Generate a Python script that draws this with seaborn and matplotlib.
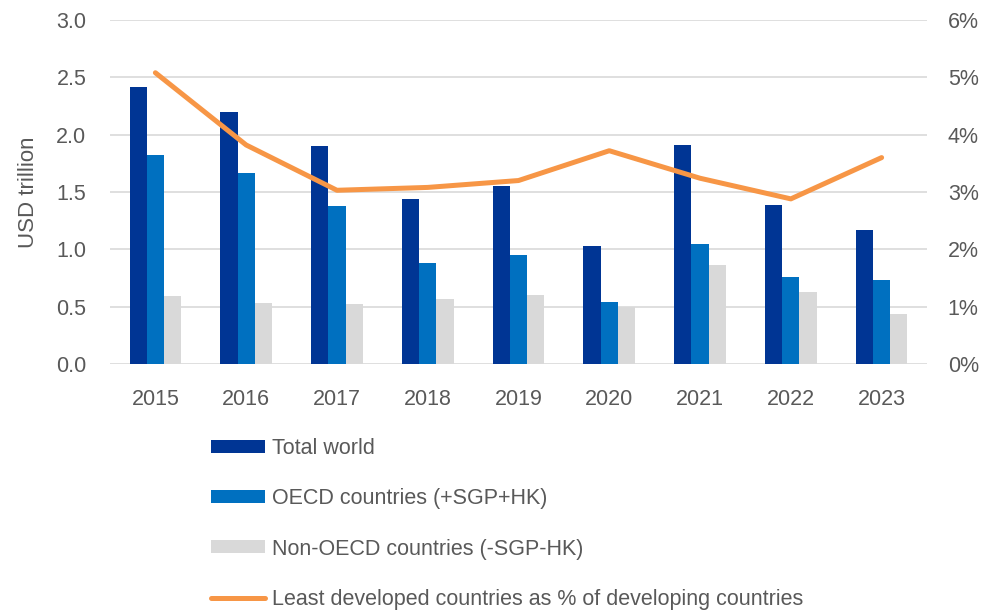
import matplotlib

matplotlib.use("Agg")

import matplotlib.pyplot as plt
import numpy as np
import pandas as pd
import seaborn as sns
from matplotlib.lines import Line2D
from matplotlib.patches import Patch
from matplotlib.ticker import FuncFormatter

years = ["2015", "2016", "2017", "2018", "2019", "2020", "2021", "2022", "2023"]
total_world = [2.42, 2.20, 1.90, 1.44, 1.55, 1.03, 1.91, 1.39, 1.17]
oecd = [1.82, 1.67, 1.38, 0.88, 0.95, 0.54, 1.05, 0.76, 0.73]
non_oecd = [0.59, 0.53, 0.52, 0.57, 0.60, 0.50, 0.86, 0.63, 0.44]
ldc_share = [5.08, 3.82, 3.03, 3.08, 3.20, 3.72, 3.24, 2.88, 3.60]

series_names = ["Total world", "OECD countries (+SGP+HK)", "Non-OECD countries (-SGP-HK)"]
line_name = "Least developed countries as % of developing countries"
colors = ["#003594", "#0070C0", "#D9D9D9"]
line_color = "#F79646"
text_color = "#595959"
grid_color = "#D9D9D9"

df = pd.DataFrame({
    "year": years * 3,
    "value": total_world + oecd + non_oecd,
    "series": [s for s in series_names for _ in years],
})

sns.set_theme(style="white")
plt.rcParams["font.family"] = ["Liberation Sans", "DejaVu Sans"]

fig = plt.figure(figsize=(9.82, 6.13), dpi=100)
W, H = 982, 613
ax = fig.add_axes([110 / W, (H - 364) / H, (927 - 110) / W, (364 - 20) / H])

sns.barplot(data=df, x="year", y="value", hue="series", hue_order=series_names,
            palette=colors, width=0.57, gap=0, saturation=1, linewidth=0,
            ax=ax, legend=False)

ax.set_ylim(0, 3.0)
ax.set_yticks(np.arange(0, 3.01, 0.5))
ax.yaxis.set_major_formatter(FuncFormatter(lambda v, _: f"{v:.1f}"))
ax.set_xlim(-0.5, len(years) - 0.5)
ax.set_xlabel("")
ax.set_ylabel("USD trillion", fontsize=16, color=text_color, labelpad=12)
ax.grid(axis="y", color=grid_color, linewidth=1.2)
ax.set_axisbelow(True)
for s in ax.spines.values():
    s.set_visible(False)
ax.tick_params(axis="x", length=0, pad=18, labelsize=15.5, labelcolor=text_color)
ax.tick_params(axis="y", length=0, pad=17, labelsize=15.5, labelcolor=text_color)

ax2 = ax.twinx()
sns.lineplot(x=np.arange(len(years)), y=ldc_share, color=line_color,
             linewidth=3.6, ax=ax2)
ax2.set_ylim(0, 6)
ax2.set_yticks(range(0, 7))
ax2.yaxis.set_major_formatter(FuncFormatter(lambda v, _: f"{v:.0f}%"))
ax2.tick_params(axis="y", length=0, pad=15, labelsize=15.5, labelcolor=text_color)
for s in ax2.spines.values():
    s.set_visible(False)
ax2.grid(False)

handles = [Patch(facecolor=c, edgecolor="none") for c in colors]
handles.append(Line2D([0], [0], color=line_color, linewidth=3.6, solid_capstyle="round"))
leg = fig.legend(handles, series_names + [line_name], loc="upper left",
                 bbox_to_anchor=(192 / W, 1 - 419 / H), frameon=False,
                 fontsize=15.5, labelcolor=text_color, handlelength=2.5,
                 handleheight=0.55, handletextpad=0.3, labelspacing=1.35)

fig.savefig("out.png", dpi=100)
